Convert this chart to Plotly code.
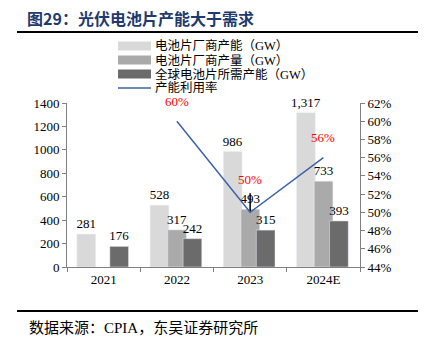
import plotly.graph_objects as go

categories = ["2021", "2022", "2023", "2024E"]
capacity = [281, 528, 986, 1317]
output = [None, 317, 493, 733]
demand = [176, 242, 315, 393]
util_cats = ["2022", "2023", "2024E"]
util = [60, 50, 56]
util_labels = ["60%", "50%", "56%"]
util_marker_up = [0, 2.1, 0]  # small black leader line seen at 2023 in the source

names = ["电池片厂商产能（GW）", "电池片厂商产量（GW）", "全球电池片所需产能（GW）", "产能利用率"]
colors = ["#D9D9D9", "#AAAAAA", "#6B6B6B", "#3D62A6"]

W, H = 424, 345
L, R, T, B = 67, 64, 103, 78
pw = W - L - R
ph = H - T - B

def px(x):
    return (x - L) / pw

def py(y):
    return (H - B - y) / ph

SERIF = "Liberation Serif, Times New Roman, Noto Sans CJK SC"
fig = go.Figure()

offsets = [-0.365, -0.125, 0.085]
for vals, nm, col, off in zip([capacity, output, demand], names[:3], colors[:3], offsets):
    fig.add_trace(go.Bar(
        x=categories, y=vals, name=nm, marker_color=col,
        width=0.255, offset=off,
        text=[f"{v:,}" if v is not None else "" for v in vals],
        textposition="outside", constraintext="none",
        textfont=dict(family=SERIF, size=13, color="#000000"),
        cliponaxis=False, showlegend=False,
    ))

fig.add_trace(go.Scatter(
    x=util_cats, y=util, name=names[3], yaxis="y2", mode="lines",
    line=dict(color=colors[3], width=1.5), showlegend=False,
    error_y=dict(type="data", symmetric=False, array=util_marker_up,
                 arrayminus=[0, 0, 0], color="#000000", thickness=1.5, width=0),
))

shifts = [10, 23, 11]
for c, v, t, s in zip(util_cats, util, util_labels, shifts):
    fig.add_annotation(x=categories.index(c), y=v, xref="x", yref="y2", text=t,
                       showarrow=False, yshift=s, yanchor="bottom",
                       font=dict(family=SERIF, size=13, color="#FF0000"))

# legend (drawn as real text + swatches)
leg_y = [46, 60, 74, 88]
for i, (nm, col) in enumerate(zip(names, colors)):
    yc = py(leg_y[i])
    if i < 3:
        fig.add_shape(type="rect", xref="paper", yref="paper", x0=px(118), x1=px(151),
                      y0=yc - 4.5 / ph, y1=yc + 4.5 / ph, line=dict(width=0), fillcolor=col)
    else:
        fig.add_shape(type="line", xref="paper", yref="paper", x0=px(118), x1=px(151),
                      y0=yc, y1=yc, line=dict(color=col, width=1.5))
    fig.add_annotation(xref="paper", yref="paper", x=px(153), y=yc, xanchor="left",
                       yanchor="middle", showarrow=False, text=nm,
                       font=dict(family=SERIF, size=12.5, color="#000000"))

fig.add_annotation(xref="paper", yref="paper", x=px(25), y=py(18), xanchor="left",
                   yanchor="middle", showarrow=False,
                   text="<b>图29：光伏电池片产能大于需求</b>",
                   font=dict(family="Noto Sans CJK SC", size=16, color="#1F3A6E"))
fig.add_annotation(xref="paper", yref="paper", x=px(27), y=py(328), xanchor="left",
                   yanchor="middle", showarrow=False,
                   text="数据来源：CPIA，东吴证券研究所",
                   font=dict(family=SERIF, size=15, color="#000000"))

fig.add_shape(type="line", xref="paper", yref="paper", x0=px(17), x1=px(418),
              y0=py(32), y1=py(32), line=dict(color="#000000", width=2))
fig.add_shape(type="line", xref="paper", yref="paper", x0=px(17), x1=px(418),
              y0=py(311), y1=py(311), line=dict(color="#000000", width=2))

axis_col = "#808080"
fig.update_layout(
    width=W, height=H, margin=dict(l=L, r=R, t=T, b=B, autoexpand=False),
    paper_bgcolor="white", plot_bgcolor="white",
    barmode="overlay", showlegend=False,
    font=dict(family=SERIF, size=12, color="#000000"),
    xaxis=dict(type="category", categoryorder="array", categoryarray=categories,
               range=[-0.5, len(categories) - 0.5],
               showline=True, linecolor=axis_col, ticks="outside",
               tickson="boundaries", ticklen=4, tickcolor=axis_col,
               tickfont=dict(family=SERIF, size=13), showgrid=False),
    yaxis=dict(range=[0, 1400], dtick=200, showline=True, linecolor=axis_col,
               ticks="outside", ticklen=4, tickcolor=axis_col, showgrid=False,
               zeroline=False, tickfont=dict(family=SERIF, size=13)),
    yaxis2=dict(range=[44, 62], dtick=2, overlaying="y", side="right",
                ticksuffix="%", showline=True, linecolor=axis_col, ticks="outside",
                ticklen=4, tickcolor=axis_col, showgrid=False, zeroline=False,
                tickfont=dict(family=SERIF, size=13)),
)

fig.write_html("out.html")
